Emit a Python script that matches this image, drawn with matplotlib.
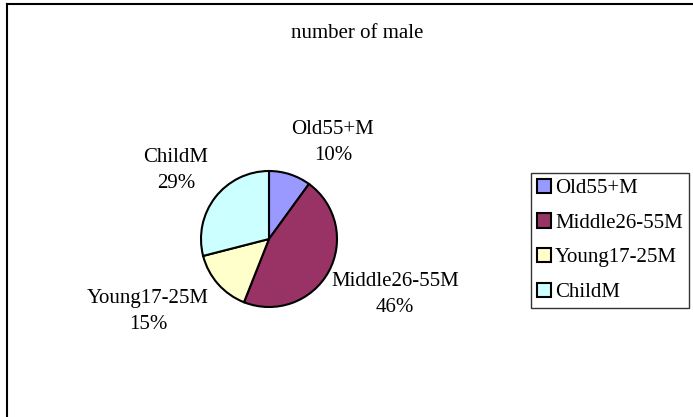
import matplotlib.pyplot as plt
from matplotlib.lines import Line2D
from matplotlib.patches import Patch

plt.rcParams["font.family"] = ["Liberation Serif", "DejaVu Serif"]

categories = ["Old55+M", "Middle26-55M", "Young17-25M", "ChildM"]
shares = [10, 46, 15, 29]
colors = ["#9999FF", "#993366", "#FFFFCC", "#CCFFFF"]
# label centres, in units of pie radius
label_pos = [(0.94, 1.42), (1.85, -0.81), (-1.78, -1.06), (-1.37, 1.01)]

W, H = 693, 417
fig = plt.figure(figsize=(W / 100, H / 100), dpi=100)

# pie placement in pixels (centre, radius)
cx, cy, r = 269, 239, 68
left, right, top, bottom = 20, 516, 90, 395
ax = fig.add_axes([left / W, (H - bottom) / H, (right - left) / W, (bottom - top) / H])
wedges, _ = ax.pie(shares, colors=colors, startangle=90, counterclock=False,
                   wedgeprops=dict(edgecolor="black", linewidth=1.5))
ax.set_xlim((left - cx) / r, (right - cx) / r)
ax.set_ylim((cy - bottom) / r, (cy - top) / r)
ax.set_aspect("auto")
ax.axis("off")

for name, val, (lx, ly) in zip(categories, shares, label_pos):
    ax.text(lx, ly, f"{name}\n{val}%", ha="center", va="center",
            fontsize=15, linespacing=1.5)

fig.text(357 / W, 1 - 34 / H, "number of male", ha="center", va="center",
         fontsize=15)

handles = [Patch(facecolor=c, edgecolor="black", linewidth=1.5) for c in colors]
leg = fig.legend(handles, categories, loc="upper left",
                 bbox_to_anchor=(531 / W, 1 - 173 / H), fontsize=15,
                 frameon=True, fancybox=False, handlelength=0.67,
                 handleheight=0.67, handletextpad=0.2, labelspacing=0.73,
                 borderpad=0.28, borderaxespad=0)
leg.get_frame().set_edgecolor("black")
leg.get_frame().set_linewidth(1.0)

# outer chart-area border (only left and top edges are visible)
fig.add_artist(Line2D([7 / W, 7 / W], [0, 1 - 4 / H], color="black", linewidth=1.5))
fig.add_artist(Line2D([7 / W, 1], [1 - 4 / H, 1 - 4 / H], color="black", linewidth=1.5))

fig.savefig("out.png", dpi=100)
